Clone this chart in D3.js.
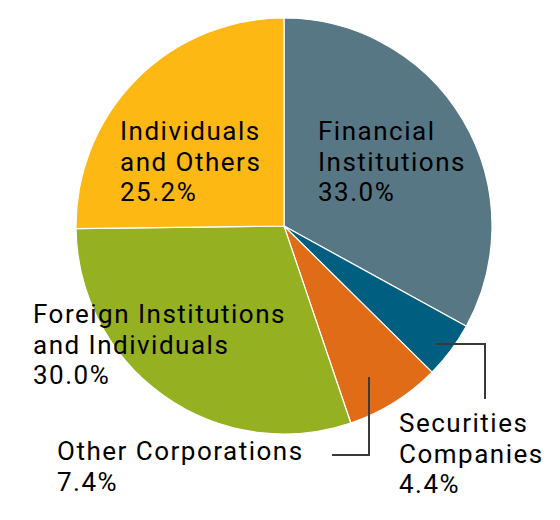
<!DOCTYPE html>
<html><head><meta charset="utf-8">
<script src="https://cdn.jsdelivr.net/npm/d3@7"></script>
<style>body{margin:0;background:#fff}</style>
</head><body>
<svg id="c" width="560" height="520"></svg>
<script>
const categories = ["Financial Institutions","Securities Companies","Other Corporations","Foreign Institutions and Individuals","Individuals and Others"];
const values = [33.0, 4.4, 7.4, 30.0, 25.2];
const colors = ["#587784","#005f80","#e06c17","#95b021","#fdb813"];
const labelLines = [["Financial","Institutions","33.0%"],["Securities","Companies","4.4%"],["Other Corporations","7.4%"],["Foreign Institutions","and Individuals","30.0%"],["Individuals","and Others","25.2%"]];

const svg = d3.select("#c");
const cx = 284, cy = 226, r = 208;
const pie = d3.pie().sort(null).value(d => d)(values);
const arc = d3.arc().innerRadius(0).outerRadius(r);
const g = svg.append("g").attr("transform", `translate(${cx},${cy})`);
g.selectAll("path").data(pie).join("path")
  .attr("d", arc).attr("fill", (d,i) => colors[i])
  .attr("stroke", "#fff").attr("stroke-width", 1.2);

const line = d3.line();
svg.append("path").attr("d", line([[436, 344],[485,344],[485,399]]))
  .attr("fill","none").attr("stroke","#3a3a3a").attr("stroke-width",2);
svg.append("path").attr("d", line([[369, 377],[369,455],[332,455]]))
  .attr("fill","none").attr("stroke","#3a3a3a").attr("stroke-width",2);

const pos = [[318,140],[399,432],[57,460],[33,323],[120,140]];
const lh = 30.5;
labelLines.forEach((lines,i) => {
  const t = svg.append("text").attr("x", pos[i][0]).attr("y", pos[i][1])
    .attr("font-family","Roboto, 'DejaVu Sans', sans-serif").attr("font-size",26)
    .attr("font-weight",400).attr("letter-spacing",1.5).attr("fill","#000");
  lines.forEach((l,j) => t.append("tspan").attr("x", pos[i][0]).attr("y", pos[i][1]+j*lh).text(l));
});
</script>
</body></html>
